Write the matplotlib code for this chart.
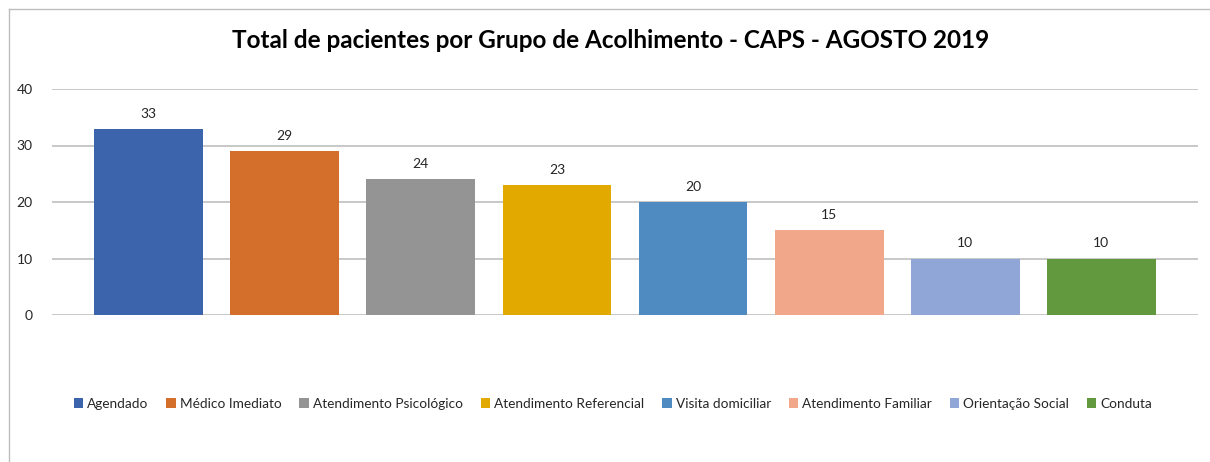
import matplotlib
matplotlib.use("Agg")
import matplotlib.pyplot as plt
from matplotlib.lines import Line2D
from matplotlib.patches import Patch

plt.rcParams['font.family'] = ['Lato', 'DejaVu Sans']

categories = ["Agendado", "Médico Imediato", "Atendimento Psicológico", "Atendimento Referencial",
              "Visita domiciliar", "Atendimento Familiar", "Orientação Social", "Conduta"]
values = [33, 29, 24, 23, 20, 15, 10, 10]
colors = ["#3C64AC", "#D46E2B", "#949494", "#E2AA00", "#4F8BC0", "#F0A78A", "#8FA6D6", "#62993E"]
yticks = [0, 10, 20, 30, 40]
title = "Total de pacientes por Grupo de Acolhimento - CAPS - AGOSTO 2019"

W, H = 1210, 462
fig = plt.figure(figsize=(W/100, H/100), dpi=100)
ax = fig.add_axes([52/W, 1-315/H, (1198-52)/W, (315-89)/H])

x = list(range(len(categories)))
bars = ax.bar(x, values, width=0.8, color=colors, zorder=3)
for xi, v in zip(x, values):
    ax.text(xi, v + 1.6, str(v), ha='center', va='bottom', fontsize=10, color='#262626')

ax.set_xlim(-0.71, len(categories) - 1 + 0.71)
ax.set_ylim(0, 40)
ax.set_yticks(yticks)
ax.set_yticklabels([str(t) for t in yticks], fontsize=10, color='#262626')
ax.yaxis.grid(True, color='#BFBFBF', linewidth=1.2, zorder=0)
ax.set_xticks([])
for s in ax.spines.values():
    s.set_visible(False)
ax.tick_params(axis='y', length=0, pad=14)

fig.text(611/W, 1-41/H, title, ha='center', va='center', fontsize=17.5, fontweight='bold', color='black')

handles = [Patch(facecolor=c, edgecolor='none') for c in colors]
fig.legend(handles, categories, loc='center', bbox_to_anchor=(613/W, 1-404/H), ncol=8, frameon=False,
           fontsize=9.8, handlelength=0.7, handleheight=0.7, handletextpad=0.3, columnspacing=1.3,
           labelcolor='#262626')

fig.add_artist(Line2D([9/W, 1], [1-9/H, 1-9/H], transform=fig.transFigure, color='#BDBDBD', linewidth=1))
fig.add_artist(Line2D([9/W, 9/W], [1-9/H, 0], transform=fig.transFigure, color='#BDBDBD', linewidth=1))

fig.savefig("out.png", dpi=100)
